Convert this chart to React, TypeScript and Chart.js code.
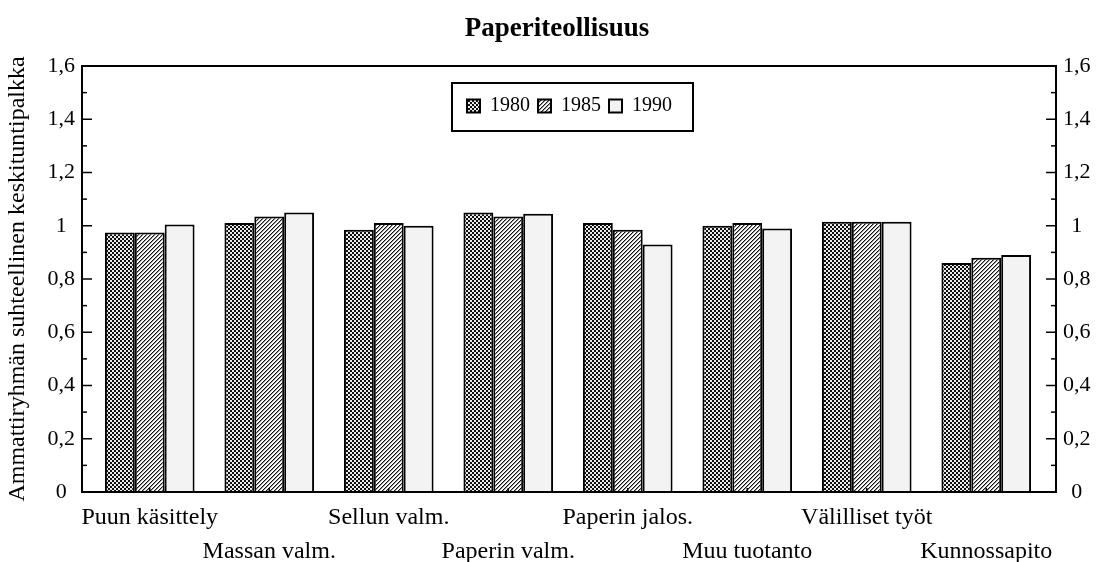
import React, { useEffect, useRef } from 'react';
import { Chart, registerables } from 'chart.js';

Chart.register(...registerables);

const chartTitle = 'Paperiteollisuus';
const yAxisTitle = 'Ammattiryhmän suhteellinen keskituntipalkka';
const categories = [
  'Puun käsittely',
  'Massan valm.',
  'Sellun valm.',
  'Paperin valm.',
  'Paperin jalos.',
  'Muu tuotanto',
  'Välilliset työt',
  'Kunnossapito',
];
const seriesNames = ['1980', '1985', '1990'];
const values1980 = [0.975, 1.01, 0.985, 1.05, 1.01, 1.0, 1.015, 0.86];
const values1985 = [0.975, 1.035, 1.01, 1.035, 0.985, 1.01, 1.015, 0.88];
const values1990 = [1.005, 1.05, 1.0, 1.045, 0.93, 0.99, 1.015, 0.89];
const yTickLabels = ['0', '0,2', '0,4', '0,6', '0,8', '1', '1,2', '1,4', '1,6'];
const yMin = 0;
const yMax = 1.6;
const yStep = 0.2;

const FONT = "'Liberation Serif', 'Times New Roman', serif";

function makeTile(ctx: CanvasRenderingContext2D, size: number, pix: (x: number, y: number) => number[]): CanvasPattern | string {
  const c = document.createElement('canvas');
  c.width = size;
  c.height = size;
  const tctx = c.getContext('2d');
  if (!tctx) return '#888';
  const img = tctx.createImageData(size, size);
  for (let y = 0; y < size; y++) {
    for (let x = 0; x < size; x++) {
      const [r, g, b] = pix(x, y);
      const i = (y * size + x) * 4;
      img.data[i] = r;
      img.data[i + 1] = g;
      img.data[i + 2] = b;
      img.data[i + 3] = 255;
    }
  }
  tctx.putImageData(img, 0, 0);
  return ctx.createPattern(c, 'repeat') || '#888';
}

const framePlugin = {
  id: 'paperFrame',
  afterLayout(chart: any) {
    const t = chart.titleBlock;
    if (t) {
      t.left += 7;
      t.right += 7;
    }
    const lg = chart.legend;
    if (lg) {
      lg.left = 459;
      lg.right = 740;
      lg.width = lg.right - lg.left;
      lg.top = 88;
      lg.bottom = 132;
      lg.height = lg.bottom - lg.top;
    }
  },
  afterDraw(chart: any) {
    const { ctx, chartArea: a, scales } = chart;
    const ys = scales.y;
    const xs = scales.x;
    const L = a.left - 8;
    const R = a.right + 10;
    const T = a.top;
    const B = a.bottom;
    ctx.save();
    ctx.strokeStyle = '#000';
    ctx.lineWidth = 2;
    ctx.strokeRect(L, T, R - L, B - T);
    const line = (x1: number, y1: number, x2: number, y2: number) => {
      ctx.beginPath();
      ctx.moveTo(x1, y1);
      ctx.lineTo(x2, y2);
      ctx.stroke();
    };
    ctx.lineWidth = 1.5;
    const tv: number[] = ys.ticks.map((t: any) => t.value);
    tv.forEach((v, i) => {
      const py = ys.getPixelForValue(v);
      line(L, py, L + 10, py);
      line(R, py, R - 10, py);
      if (i < tv.length - 1) {
        const pm = ys.getPixelForValue((v + tv[i + 1]) / 2);
        line(L, pm, L + 5, pm);
        line(R, pm, R - 5, pm);
      }
    });
    categories.forEach((_, i) => {
      const px = xs.getPixelForValue(i);
      line(px, B, px, B - 4);
    });
    const hb = chart.legend && chart.legend.legendHitBoxes;
    if (hb && hb.length) {
      const first = hb[0];
      const last = hb[hb.length - 1];
      const fl = first.left - 15;
      const fr = last.left + last.width + 21;
      const ft = first.top - 13;
      const fb = first.top + 35;
      ctx.lineWidth = 2;
      ctx.strokeRect(fl, ft, fr - fl, fb - ft);
    }
    ctx.restore();
  },
};

export default function App() {
  const ref = useRef<HTMLCanvasElement | null>(null);

  useEffect(() => {
    const canvas = ref.current;
    if (!canvas) return;
    const ctx = canvas.getContext('2d');
    if (!ctx) return;

    const checker = makeTile(ctx, 4, (x, y) =>
      (Math.floor(x / 2) + Math.floor(y / 2)) % 2 === 0 ? [15, 15, 15] : [235, 235, 235]
    );
    const hatch = makeTile(ctx, 4, (x, y) => {
      const k = (x + y) % 4;
      if (k === 0) return [20, 20, 20];
      if (k === 1) return [150, 150, 150];
      return [250, 250, 250];
    });

    const fills = [checker, hatch, '#f3f3f3'];
    const series = [values1980, values1985, values1990];
    const xLabels = categories.map((c, i) => (i % 2 === 0 ? [c, ''] : ['', c]));

    const tickFont = { family: FONT, size: 22 };

    const chart = new Chart(ctx, {
      type: 'bar',
      data: {
        labels: xLabels,
        datasets: seriesNames.map((name, i) => ({
          label: name,
          data: series[i],
          backgroundColor: fills[i] as any,
          borderColor: '#000',
          borderWidth: 2,
          categoryPercentage: 0.75,
          barPercentage: 1,
          yAxisID: 'y',
        })),
      },
      options: {
        responsive: false,
        animation: false,
        layout: { padding: 0 },
        plugins: {
          title: {
            display: true,
            text: chartTitle,
            color: '#000',
            font: { family: FONT, size: 27, weight: 'bold' },
            padding: { top: 13, bottom: 0 },
          },
          legend: {
            display: true,
            position: 'top',
            align: 'start',
            maxHeight: 20.6,
            labels: {
              color: '#000',
              font: { family: FONT, size: 20 },
              boxWidth: 13,
              boxHeight: 13,
              padding: 8,
            },
          },
          tooltip: { enabled: false },
        },
        scales: {
          x: {
            type: 'category',
            grid: { display: false, drawTicks: false },
            border: { display: false },
            ticks: {
              color: '#000',
              font: { family: FONT, size: 24, lineHeight: 1.45 },
              padding: 8,
              maxRotation: 0,
              minRotation: 0,
              autoSkip: false,
            },
            afterFit: (s: any) => {
              s.height = 70;
            },
          },
          y: {
            type: 'linear',
            position: 'left',
            min: yMin,
            max: yMax,
            grid: { display: false, drawTicks: false },
            border: { display: false },
            ticks: {
              stepSize: yStep,
              color: '#000',
              font: tickFont,
              padding: 15,
              crossAlign: 'center',
              callback: (v: any) => yTickLabels[Math.round(Number(v) / yStep)] ?? '',
            },
            title: {
              display: true,
              text: yAxisTitle,
              color: '#000',
              font: { family: FONT, size: 24 },
              padding: { top: 3, bottom: 0 },
            },
            afterFit: (s: any) => {
              s.width = 90;
            },
          },
          y2: {
            type: 'linear',
            position: 'right',
            min: yMin,
            max: yMax,
            grid: { display: false, drawTicks: false },
            border: { display: false },
            ticks: {
              stepSize: yStep,
              color: '#000',
              font: tickFont,
              padding: 17,
              crossAlign: 'center',
              callback: (v: any) => yTickLabels[Math.round(Number(v) / yStep)] ?? '',
            },
            afterFit: (s: any) => {
              s.width = 54;
            },
          },
        },
      } as any,
      plugins: [framePlugin],
    });

    return () => {
      chart.destroy();
    };
  }, []);

  return (
    <div style={{ position: 'fixed', left: 0, top: 0, width: 1100, height: 562, background: '#fff' }}>
      <canvas ref={ref} width={1100} height={562} style={{ display: 'block' }} />
    </div>
  );
}
